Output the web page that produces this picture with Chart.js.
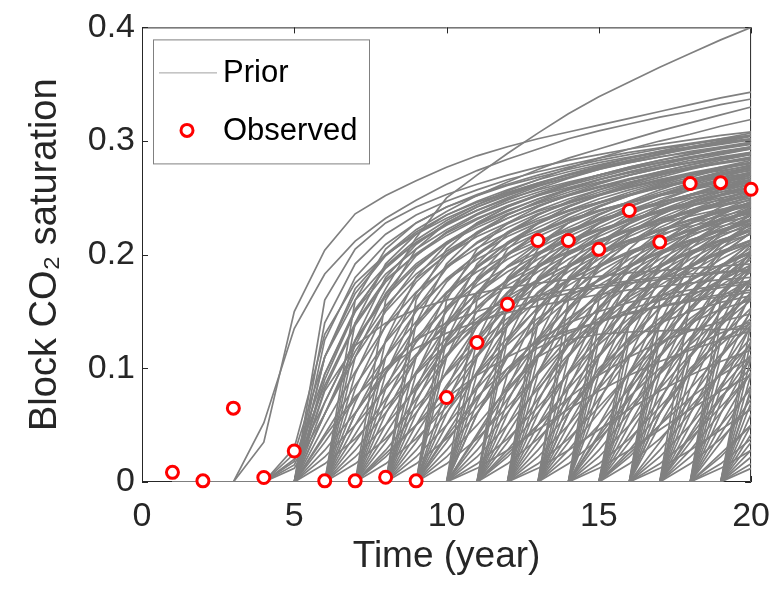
<!DOCTYPE html>
<html>
<head>
<meta charset="utf-8">
<title>Block CO2 saturation</title>
<script src="https://cdn.jsdelivr.net/npm/chart.js@4.4.1/dist/chart.umd.min.js"></script>
<style>
  html, body { margin: 0; padding: 0; background: #fff; }
  #wrap { position: relative; width: 784px; height: 591px; }
</style>
</head>
<body>
<div id="wrap"><canvas id="chart"></canvas></div>
<script>
// time axis (years) and observed block saturation
const years = [1, 2, 3, 4, 5, 6, 7, 8, 9, 10, 11, 12, 13, 14, 15, 16, 17, 18, 19, 20];
const observed = [0.0085, 0.001, 0.065, 0.004, 0.0273, 0.001, 0.001, 0.0042, 0.001, 0.0743,
  0.1228, 0.1564, 0.2125, 0.2125, 0.2047, 0.2389, 0.2111, 0.2626, 0.2634, 0.2576];

const xTicks = [0, 5, 10, 15, 20];
const yTicks = [0, 0.1, 0.2, 0.3, 0.4];

// prior realizations, grouped by the last year with zero saturation.
// each row lists the values for the following years, up to year 20
const priorFrom3 = [
  [.035,.150,.204,.236,.252,.265,.277,.287,.295,.302,.308,.314,.320,.326,.332,.338,.343],
  [.052,.135,.183,.212,.232,.248,.262,.274,.284,.293,.302,.309,.315,.321,.326,.332,.337]
];
const priorFrom4 = [
  [.030,.130,.175,.200,.218,.232,.244,.254,.263,.271,.278,.285,.291,.297,.302,.307],
  [.025,.110,.160,.190,.210,.226,.239,.250,.260,.268,.276,.283,.289,.295,.300,.305],
  [.020,.095,.150,.183,.205,.222,.236,.248,.258,.267,.275,.282,.288,.294,.299,.304],
  [.018,.085,.140,.178,.200,.217,.231,.243,.253,.262,.270,.277,.283,.289,.294,.298],
  [.015,.070,.125,.165,.192,.211,.226,.238,.249,.258,.266,.273,.279,.285,.290,.295],
  [.012,.060,.115,.155,.183,.203,.219,.232,.243,.252,.260,.267,.273,.279,.284,.289]
];
const priorFrom5 = [
  [.060,.120,.170,.215,.250,.270,.289,.307,.324,.339,.352,.365,.377,.389,.400],
  [.110,.170,.200,.222,.238,.252,.264,.275,.285,.293,.301,.309,.316,.323,.330],
  [.090,.150,.190,.213,.230,.244,.256,.266,.276,.285,.293,.300,.306,.313,.319],
  [.160,.205,.228,.242,.253,.262,.270,.277,.283,.288,.293,.297,.301,.305,.308],
  [.140,.192,.218,.235,.247,.257,.266,.273,.279,.285,.290,.294,.298,.302,.305],
  [.125,.180,.209,.228,.242,.252,.261,.268,.275,.281,.286,.291,.295,.299,.302],
  [.110,.166,.199,.220,.235,.246,.255,.263,.270,.276,.281,.286,.290,.294,.298],
  [.095,.152,.188,.211,.227,.239,.249,.257,.264,.270,.276,.281,.285,.289,.293],
  [.082,.138,.176,.201,.219,.232,.243,.252,.259,.266,.272,.277,.281,.285,.289],
  [.070,.124,.163,.190,.210,.224,.236,.245,.253,.260,.266,.271,.276,.280,.284],
  [.060,.110,.150,.179,.200,.216,.228,.238,.246,.253,.259,.265,.270,.274,.278],
  [.050,.097,.137,.167,.189,.206,.219,.230,.239,.246,.253,.259,.264,.268,.272],
  [.042,.085,.123,.154,.178,.196,.210,.221,.231,.239,.246,.252,.257,.262,.266],
  [.035,.073,.110,.141,.166,.185,.200,.212,.222,.231,.238,.244,.250,.255,.259],
  [.028,.061,.096,.127,.153,.173,.189,.202,.213,.222,.230,.237,.243,.248,.252],
  [.022,.050,.082,.112,.138,.160,.177,.191,.203,.213,.221,.228,.234,.240,.245],
  [.016,.038,.066,.095,.121,.144,.163,.178,.191,.201,.210,.218,.225,.231,.236],
  [.080,.120,.140,.152,.160,.166,.171,.175,.178,.181,.184,.186,.188,.190,.192],
  [.040,.075,.100,.118,.131,.141,.149,.155,.160,.165,.169,.172,.175,.178,.180]
];
const priorFrom6 = [
  [.160,.205,.228,.242,.253,.262,.270,.277,.283,.288,.293,.297,.301,.305],
  [.140,.192,.218,.235,.247,.257,.266,.273,.279,.285,.290,.294,.298,.302],
  [.125,.180,.209,.228,.242,.252,.261,.268,.275,.281,.286,.291,.295,.299],
  [.110,.166,.199,.220,.235,.246,.255,.263,.270,.276,.281,.286,.290,.294],
  [.095,.152,.188,.211,.227,.239,.249,.257,.264,.270,.276,.281,.285,.289],
  [.082,.138,.176,.201,.219,.232,.243,.252,.259,.266,.272,.277,.281,.285],
  [.070,.124,.163,.190,.210,.224,.236,.245,.253,.260,.266,.271,.276,.280],
  [.060,.110,.150,.179,.200,.216,.228,.238,.246,.253,.259,.265,.270,.274],
  [.050,.097,.137,.167,.189,.206,.219,.230,.239,.246,.253,.259,.264,.268],
  [.042,.085,.123,.154,.178,.196,.210,.221,.231,.239,.246,.252,.257,.262],
  [.035,.073,.110,.141,.166,.185,.200,.212,.222,.231,.238,.244,.250,.255],
  [.028,.061,.096,.127,.153,.173,.189,.202,.213,.222,.230,.237,.243,.248],
  [.022,.050,.082,.112,.138,.160,.177,.191,.203,.213,.221,.228,.234,.240],
  [.016,.038,.066,.095,.121,.144,.163,.178,.191,.201,.210,.218,.225,.231],
  [.060,.100,.125,.140,.150,.158,.164,.169,.173,.177,.180,.183,.185,.187]
];
const priorFrom7 = [
  [.160,.205,.228,.242,.253,.262,.270,.277,.283,.288,.293,.297,.301],
  [.125,.180,.209,.228,.242,.252,.261,.268,.275,.281,.286,.291,.295],
  [.110,.166,.199,.220,.235,.246,.255,.263,.270,.276,.281,.286,.290],
  [.095,.152,.188,.211,.227,.239,.249,.257,.264,.270,.276,.281,.285],
  [.082,.138,.176,.201,.219,.232,.243,.252,.259,.266,.272,.277,.281],
  [.070,.124,.163,.190,.210,.224,.236,.245,.253,.260,.266,.271,.276],
  [.060,.110,.150,.179,.200,.216,.228,.238,.246,.253,.259,.265,.270],
  [.050,.097,.137,.167,.189,.206,.219,.230,.239,.246,.253,.259,.264],
  [.042,.085,.123,.154,.178,.196,.210,.221,.231,.239,.246,.252,.257],
  [.035,.073,.110,.141,.166,.185,.200,.212,.222,.231,.238,.244,.250],
  [.028,.061,.096,.127,.153,.173,.189,.202,.213,.222,.230,.237,.243],
  [.022,.050,.082,.112,.138,.160,.177,.191,.203,.213,.221,.228,.234],
  [.016,.038,.066,.095,.121,.144,.163,.178,.191,.201,.210,.218,.225],
  [.025,.050,.074,.094,.110,.123,.133,.141,.148,.154,.159,.163,.167]
];
const priorFrom8 = [
  [.160,.205,.228,.242,.253,.262,.270,.277,.283,.288,.293,.297],
  [.140,.192,.218,.235,.247,.257,.266,.273,.279,.285,.290,.294],
  [.110,.166,.199,.220,.235,.246,.255,.263,.270,.276,.281,.286],
  [.095,.152,.188,.211,.227,.239,.249,.257,.264,.270,.276,.281],
  [.082,.138,.176,.201,.219,.232,.243,.252,.259,.266,.272,.277],
  [.070,.124,.163,.190,.210,.224,.236,.245,.253,.260,.266,.271],
  [.060,.110,.150,.179,.200,.216,.228,.238,.246,.253,.259,.265],
  [.050,.097,.137,.167,.189,.206,.219,.230,.239,.246,.253,.259],
  [.042,.085,.123,.154,.178,.196,.210,.221,.231,.239,.246,.252],
  [.035,.073,.110,.141,.166,.185,.200,.212,.222,.231,.238,.244],
  [.028,.061,.096,.127,.153,.173,.189,.202,.213,.222,.230,.237],
  [.022,.050,.082,.112,.138,.160,.177,.191,.203,.213,.221,.228],
  [.016,.038,.066,.095,.121,.144,.163,.178,.191,.201,.210,.218],
  [.080,.120,.140,.152,.160,.166,.171,.175,.178,.181,.184,.186]
];
const priorFrom9 = [
  [.160,.205,.228,.242,.253,.262,.270,.277,.283,.288,.293],
  [.140,.192,.218,.235,.247,.257,.266,.273,.279,.285,.290],
  [.125,.180,.209,.228,.242,.252,.261,.268,.275,.281,.286],
  [.110,.166,.199,.220,.235,.246,.255,.263,.270,.276,.281],
  [.082,.138,.176,.201,.219,.232,.243,.252,.259,.266,.272],
  [.070,.124,.163,.190,.210,.224,.236,.245,.253,.260,.266],
  [.060,.110,.150,.179,.200,.216,.228,.238,.246,.253,.259],
  [.050,.097,.137,.167,.189,.206,.219,.230,.239,.246,.253],
  [.042,.085,.123,.154,.178,.196,.210,.221,.231,.239,.246],
  [.035,.073,.110,.141,.166,.185,.200,.212,.222,.231,.238],
  [.028,.061,.096,.127,.153,.173,.189,.202,.213,.222,.230],
  [.022,.050,.082,.112,.138,.160,.177,.191,.203,.213,.221],
  [.016,.038,.066,.095,.121,.144,.163,.178,.191,.201,.210],
  [.040,.075,.100,.118,.131,.141,.149,.155,.160,.165,.169]
];
const priorFrom10 = [
  [.160,.205,.228,.242,.253,.262,.270,.277,.283,.288],
  [.125,.180,.209,.228,.242,.252,.261,.268,.275,.281],
  [.110,.166,.199,.220,.235,.246,.255,.263,.270,.276],
  [.095,.152,.188,.211,.227,.239,.249,.257,.264,.270],
  [.082,.138,.176,.201,.219,.232,.243,.252,.259,.266],
  [.070,.124,.163,.190,.210,.224,.236,.245,.253,.260],
  [.060,.110,.150,.179,.200,.216,.228,.238,.246,.253],
  [.042,.085,.123,.154,.178,.196,.210,.221,.231,.239],
  [.035,.073,.110,.141,.166,.185,.200,.212,.222,.231],
  [.028,.061,.096,.127,.153,.173,.189,.202,.213,.222],
  [.022,.050,.082,.112,.138,.160,.177,.191,.203,.213],
  [.016,.038,.066,.095,.121,.144,.163,.178,.191,.201],
  [.060,.100,.125,.140,.150,.158,.164,.169,.173,.177],
  [.012,.028,.046,.064,.080,.094,.106,.116,.125,.133],
  [.040,.080,.110,.125,.130,.132,.133,.134,.134,.135]
];
const priorFrom11 = [
  [.160,.205,.228,.242,.253,.262,.270,.277,.283],
  [.140,.192,.218,.235,.247,.257,.266,.273,.279],
  [.125,.180,.209,.228,.242,.252,.261,.268,.275],
  [.095,.152,.188,.211,.227,.239,.249,.257,.264],
  [.082,.138,.176,.201,.219,.232,.243,.252,.259],
  [.070,.124,.163,.190,.210,.224,.236,.245,.253],
  [.060,.110,.150,.179,.200,.216,.228,.238,.246],
  [.050,.097,.137,.167,.189,.206,.219,.230,.239],
  [.042,.085,.123,.154,.178,.196,.210,.221,.231],
  [.035,.073,.110,.141,.166,.185,.200,.212,.222],
  [.028,.061,.096,.127,.153,.173,.189,.202,.213],
  [.022,.050,.082,.112,.138,.160,.177,.191,.203],
  [.016,.038,.066,.095,.121,.144,.163,.178,.191],
  [.025,.050,.074,.094,.110,.123,.133,.141,.148]
];
const priorFrom12 = [
  [.160,.205,.228,.242,.253,.262,.270,.277],
  [.140,.192,.218,.235,.247,.257,.266,.273],
  [.125,.180,.209,.228,.242,.252,.261,.268],
  [.110,.166,.199,.220,.235,.246,.255,.263],
  [.095,.152,.188,.211,.227,.239,.249,.257],
  [.070,.124,.163,.190,.210,.224,.236,.245],
  [.060,.110,.150,.179,.200,.216,.228,.238],
  [.050,.097,.137,.167,.189,.206,.219,.230],
  [.042,.085,.123,.154,.178,.196,.210,.221],
  [.035,.073,.110,.141,.166,.185,.200,.212],
  [.028,.061,.096,.127,.153,.173,.189,.202],
  [.022,.050,.082,.112,.138,.160,.177,.191],
  [.016,.038,.066,.095,.121,.144,.163,.178],
  [.080,.120,.140,.152,.160,.166,.171,.175],
  [.012,.028,.046,.064,.080,.094,.106,.116]
];
const priorFrom13 = [
  [.160,.205,.228,.242,.253,.262,.270],
  [.140,.192,.218,.235,.247,.257,.266],
  [.110,.166,.199,.220,.235,.246,.255],
  [.095,.152,.188,.211,.227,.239,.249],
  [.082,.138,.176,.201,.219,.232,.243],
  [.070,.124,.163,.190,.210,.224,.236],
  [.060,.110,.150,.179,.200,.216,.228],
  [.050,.097,.137,.167,.189,.206,.219],
  [.042,.085,.123,.154,.178,.196,.210],
  [.035,.073,.110,.141,.166,.185,.200],
  [.028,.061,.096,.127,.153,.173,.189],
  [.022,.050,.082,.112,.138,.160,.177],
  [.016,.038,.066,.095,.121,.144,.163],
  [.060,.100,.125,.140,.150,.158,.164]
];
const priorFrom14 = [
  [.160,.205,.228,.242,.253,.262],
  [.140,.192,.218,.235,.247,.257],
  [.125,.180,.209,.228,.242,.252],
  [.110,.166,.199,.220,.235,.246],
  [.095,.152,.188,.211,.227,.239],
  [.082,.138,.176,.201,.219,.232],
  [.070,.124,.163,.190,.210,.224],
  [.050,.097,.137,.167,.189,.206],
  [.042,.085,.123,.154,.178,.196],
  [.035,.073,.110,.141,.166,.185],
  [.028,.061,.096,.127,.153,.173],
  [.022,.050,.082,.112,.138,.160],
  [.016,.038,.066,.095,.121,.144],
  [.040,.075,.100,.118,.131,.141],
  [.012,.028,.046,.064,.080,.094]
];
const priorFrom15 = [
  [.140,.192,.218,.235,.247], [.125,.180,.209,.228,.242], [.110,.166,.199,.220,.235],
  [.095,.152,.188,.211,.227], [.082,.138,.176,.201,.219], [.070,.124,.163,.190,.210],
  [.060,.110,.150,.179,.200], [.050,.097,.137,.167,.189], [.042,.085,.123,.154,.178],
  [.035,.073,.110,.141,.166], [.028,.061,.096,.127,.153], [.022,.050,.082,.112,.138],
  [.016,.038,.066,.095,.121], [.080,.120,.140,.152,.160], [.025,.050,.074,.094,.110]
];
const priorFrom16 = [
  [.160,.205,.228,.242], [.140,.192,.218,.235], [.125,.180,.209,.228], [.110,.166,.199,.220],
  [.095,.152,.188,.211], [.082,.138,.176,.201], [.070,.124,.163,.190], [.060,.110,.150,.179],
  [.050,.097,.137,.167], [.035,.073,.110,.141], [.028,.061,.096,.127], [.022,.050,.082,.112],
  [.016,.038,.066,.095], [.060,.100,.125,.140], [.012,.028,.046,.064]
];
const priorFrom17 = [
  [.160,.205,.228], [.125,.180,.209], [.110,.166,.199], [.095,.152,.188], [.082,.138,.176],
  [.070,.124,.163], [.060,.110,.150], [.050,.097,.137], [.042,.085,.123], [.035,.073,.110],
  [.028,.061,.096], [.022,.050,.082], [.016,.038,.066], [.040,.075,.100]
];
const priorFrom18 = [
  [.160,.205], [.140,.192], [.125,.180], [.110,.166], [.095,.152], [.082,.138], [.070,.124],
  [.060,.110], [.050,.097], [.042,.085], [.035,.073], [.022,.050], [.016,.038], [.025,.050],
  [.012,.028]
];
const priorFrom19 = [
  [.140], [.125], [.110], [.095], [.082], [.070], [.060], [.050], [.042], [.035], [.028],
  [.022], [.016], [.080], [.012]
];

const FONT = "'Liberation Sans', Arial, Helvetica, sans-serif";
const AXIS_COLOR = '#262626';
const PRIOR_COLOR = '#808080';

// zeros before breakthrough, then the listed values
function toPoints(vals) {
  const lead = years.length - vals.length;
  return years.map((t, i) => ({ x: t, y: i < lead ? 0 : vals[i - lead] }));
}

const priorRows = [].concat(priorFrom3, priorFrom4, priorFrom5, priorFrom6, priorFrom7,
  priorFrom8, priorFrom9, priorFrom10, priorFrom11, priorFrom12, priorFrom13, priorFrom14,
  priorFrom15, priorFrom16, priorFrom17, priorFrom18, priorFrom19);

const priorDatasets = priorRows.map((vals, i) => ({
  label: i === 0 ? 'Prior' : 'Prior ' + (i + 1),
  data: toPoints(vals),
  borderColor: PRIOR_COLOR,
  borderWidth: 1.7,
  pointRadius: 0,
  tension: 0,
  fill: false
}));

const observedDataset = {
  label: 'Observed',
  data: years.map((t, i) => ({ x: t, y: observed[i] })),
  showLine: false,
  pointRadius: 6,
  pointBorderWidth: 3,
  pointBorderColor: '#ff0000',
  pointBackgroundColor: '#ffffff',
  clip: false
};

// box around the axes with inward ticks (drawn under the data, like matlab)
const framePlugin = {
  id: 'frame',
  beforeDatasetsDraw(chart) {
    const { ctx, chartArea: a, scales: { x, y } } = chart;
    const len = 6;
    ctx.save();
    ctx.strokeStyle = AXIS_COLOR;
    ctx.lineWidth = 1;
    ctx.beginPath();
    ctx.rect(a.left + 0.5, a.top + 0.5, a.right - a.left - 1, a.bottom - a.top - 1);
    xTicks.forEach(v => {
      const px = Math.round(x.getPixelForValue(v)) + 0.5;
      ctx.moveTo(px, a.bottom); ctx.lineTo(px, a.bottom - len);
      ctx.moveTo(px, a.top); ctx.lineTo(px, a.top + len);
    });
    yTicks.forEach(v => {
      const py = Math.round(y.getPixelForValue(v)) + 0.5;
      ctx.moveTo(a.left, py); ctx.lineTo(a.left + len, py);
      ctx.moveTo(a.right, py); ctx.lineTo(a.right - len, py);
    });
    ctx.stroke();
    ctx.restore();
  }
};

// legend box inside the upper left corner of the axes
const legendPlugin = {
  id: 'insideLegend',
  afterDraw(chart) {
    const { ctx, chartArea: a } = chart;
    const bx = a.left + 11, by = a.top + 12, bw = 216, bh = 124;
    ctx.save();
    ctx.fillStyle = '#ffffff';
    ctx.fillRect(bx, by, bw, bh);
    ctx.strokeStyle = '#808080';
    ctx.lineWidth = 1;
    ctx.strokeRect(bx + 0.5, by + 0.5, bw, bh);

    ctx.strokeStyle = '#a0a0a0';
    ctx.beginPath();
    ctx.moveTo(bx + 6, by + 33.5);
    ctx.lineTo(bx + 64, by + 33.5);
    ctx.stroke();

    ctx.strokeStyle = '#ff0000';
    ctx.lineWidth = 3;
    ctx.beginPath();
    ctx.arc(bx + 34, by + 91, 6, 0, Math.PI * 2);
    ctx.stroke();

    ctx.fillStyle = '#000000';
    ctx.font = '31px ' + FONT;
    ctx.textBaseline = 'middle';
    ctx.textAlign = 'left';
    ctx.fillText('Prior', bx + 70, by + 34);
    ctx.fillText('Observed', bx + 70, by + 92);
    ctx.restore();
  }
};

new Chart(document.getElementById('chart'), {
  type: 'line',
  data: { datasets: [observedDataset].concat(priorDatasets) },
  options: {
    responsive: true,
    maintainAspectRatio: false,
    animation: false,
    devicePixelRatio: 1,
    events: [],
    layout: { padding: { top: 21, right: 27, left: 0, bottom: 0 } },
    plugins: {
      legend: { display: false },
      tooltip: { enabled: false }
    },
    scales: {
      x: {
        type: 'linear',
        min: 0,
        max: 20,
        afterBuildTicks: s => { s.ticks = xTicks.map(v => ({ value: v })); },
        afterFit: s => { s.height = 109; },
        grid: { display: false, drawTicks: false },
        border: { display: false },
        ticks: {
          font: { family: FONT, size: 34 },
          color: AXIS_COLOR,
          padding: 14,
          maxRotation: 0
        },
        title: {
          display: true,
          text: 'Time (year)',
          font: { family: FONT, size: 37 },
          color: AXIS_COLOR,
          padding: { top: 0, bottom: 12 }
        }
      },
      y: {
        type: 'linear',
        min: 0,
        max: 0.4,
        afterBuildTicks: s => { s.ticks = yTicks.map(v => ({ value: v })); },
        afterFit: s => { s.width = 142; },
        grid: { display: false, drawTicks: false },
        border: { display: false },
        ticks: {
          font: { family: FONT, size: 34 },
          color: AXIS_COLOR,
          padding: 7,
          callback: v => (v === 0 ? '0' : v.toFixed(1))
        },
        title: {
          display: true,
          text: 'Block CO\u2082 saturation',
          font: { family: FONT, size: 38 },
          color: AXIS_COLOR,
          padding: { top: 23, bottom: 0 }
        }
      }
    }
  },
  plugins: [framePlugin, legendPlugin]
});
</script>
</body>
</html>
